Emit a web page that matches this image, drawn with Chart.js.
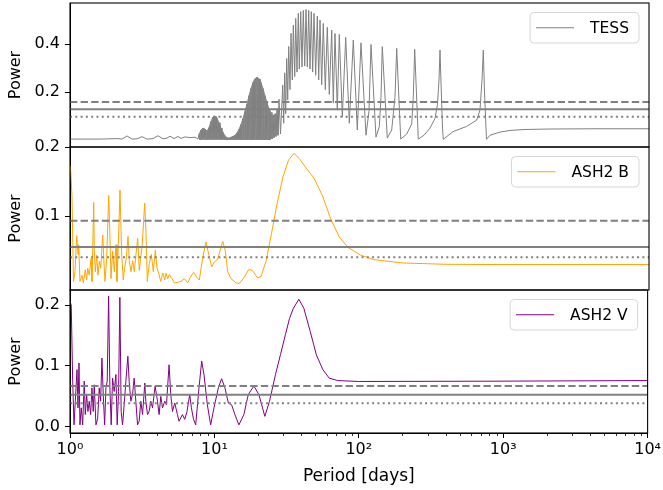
<!DOCTYPE html>
<html>
<head>
<meta charset="utf-8">
<script src="https://cdn.jsdelivr.net/npm/chart.js@4.4.1/dist/chart.umd.min.js"></script>
<style>
  body { margin: 0; background: #fff; }
  #wrap { position: relative; width: 663px; height: 490px; }
  #wrap canvas { position: absolute; left: 0; top: 0; }
</style>
</head>
<body>
<div id="wrap">
  <canvas id="c1" width="663" height="490"></canvas>
  <canvas id="c2" width="663" height="490"></canvas>
  <canvas id="c3" width="663" height="490"></canvas>
</div>
<script>
// x軸（周期, 日）の目盛り
const xMajorTicks = [1, 10, 100, 1000, 10000];
const xTickLabels = ['10⁰', '10¹', '10²', '10³', '10⁴'];

// TESS のピリオドグラム
const tessPeriod = [
  1.000, 1.612, 2.146, 2.287, 2.476, 2.682, 2.903, 3.144, 3.403, 3.745, 4.055, 4.390, 4.679, 4.909,
  5.231, 5.574, 5.846, 6.230, 6.746, 7.304,
  7.661, 7.784, 7.909, 8.035, 8.164, 8.295, 8.428, 8.563, 8.701, 8.840, 8.982, 9.126, 9.272, 9.421,
  9.572, 9.726, 9.881, 10.04, 10.20, 10.36, 10.53, 10.70, 10.87, 11.05, 11.22, 11.40, 11.59, 11.77,
  11.96, 12.15, 12.35, 12.55,
  12.75, 12.95, 13.16, 13.37, 13.59, 13.80, 14.03, 14.25, 14.48, 14.71, 14.94, 15.18, 15.43, 15.67,
  15.93, 16.18, 16.44, 16.70, 16.97, 17.24, 17.52, 17.80, 18.09, 18.38, 18.67, 18.97, 19.28, 19.58,
  19.90, 20.22, 20.54, 20.87, 21.21, 21.54, 21.89, 22.24, 22.60, 22.96, 23.33, 23.70, 24.08, 24.47,
  24.86, 25.26, 25.66, 26.08, 26.49, 26.92, 27.35, 27.79, 28.46,
  29.48, 29.95, 30.43, 30.92, 31.41, 31.92, 32.43, 33.11, 33.64, 34.35, 34.90, 35.69, 36.26, 37.01,
  37.78, 38.38, 39.25, 40.07, 40.91, 41.83, 42.70, 43.60, 44.58, 45.50, 46.45, 47.50, 48.49, 49.82,
  51.11, 52.26, 53.35, 54.81, 56.22, 58.04, 59.92, 61.86, 64.27, 65.92, 67.73, 70.26, 72.53, 76.08,
  80.30, 85.03, 90.61, 96.57, 102.4, 110.9, 116.3, 120.1, 130.0, 137.0, 140.8, 143.7, 155.6, 166.9,
  175.9, 180.7, 192.6, 211.9, 229.5, 235.3, 240.6, 254.8, 279.1, 306.9, 332.4, 345.9, 354.2, 359.9,
  367.4, 374.5, 379.3, 442.6, 550.3, 645.0, 679.8, 702.0, 716.6, 730.4, 754.0, 797.1, 934.6, 1096,
  1391, 2071, 4586, 10000
];
const tessPower = [
  0.004, 0.004, 0.006, 0.004, 0.017, 0.004, 0.005, 0.014, 0.004, 0.006, 0.018, 0.005, 0.008, 0.016,
  0.006, 0.015, 0.007, 0.013, 0.010, 0.012,
  0.004, 0.025, 0.004, 0.042, 0.005, 0.050, 0.005, 0.046, 0.005, 0.038, 0.005, 0.052, 0.005, 0.078,
  0.005, 0.096, 0.006, 0.100, 0.006, 0.092, 0.005, 0.072, 0.005, 0.050, 0.004, 0.032, 0.004, 0.018,
  0.003, 0.010, 0.003, 0.008,
  0.003, 0.012, 0.003, 0.015, 0.003, 0.020, 0.003, 0.030, 0.003, 0.045, 0.003, 0.065, 0.003, 0.090,
  0.003, 0.120, 0.003, 0.150, 0.003, 0.185, 0.003, 0.215, 0.003, 0.240, 0.003, 0.255, 0.003, 0.262,
  0.003, 0.255, 0.003, 0.240, 0.003, 0.215, 0.003, 0.185, 0.003, 0.155, 0.003, 0.130, 0.004, 0.115,
  0.005, 0.105, 0.010, 0.110, 0.015, 0.130, 0.020, 0.170, 0.025,
  0.229, 0.070, 0.280, 0.110, 0.340, 0.167, 0.390, 0.210, 0.445, 0.250, 0.479, 0.264, 0.507, 0.283,
  0.528, 0.296, 0.535, 0.304, 0.540, 0.308, 0.544, 0.304, 0.540, 0.296, 0.535, 0.283, 0.528, 0.270,
  0.517, 0.250, 0.500, 0.230, 0.486, 0.210, 0.470, 0.190, 0.458, 0.154, 0.444, 0.125, 0.440, 0.096,
  0.428, 0.070, 0.417, 0.042, 0.405, 0.020, 0.120, 0.398, 0.012, 0.056, 0.180, 0.389, 0.008, 0.042,
  0.180, 0.382, 0.004, 0.025, 0.067, 0.180, 0.378, 0.004, 0.020, 0.050, 0.090, 0.150, 0.250, 0.375,
  0.200, 0.050, 0.003, 0.035, 0.057, 0.083, 0.125, 0.250, 0.375, 0.200, 0.003, 0.020, 0.033, 0.040,
  0.044, 0.046, 0.047, 0.047
];
// 縞が細かすぎて塗りつぶしに見える周期の範囲
const tessDenseRange = [7.6, 24.5];

// ASH2 B バンド
const ash2bPeriod = [
  1.008, 1.032, 1.057, 1.083, 1.113, 1.136, 1.148, 1.172, 1.210, 1.236, 1.276, 1.304, 1.325, 1.359,
  1.397, 1.419, 1.458, 1.472, 1.496, 1.529, 1.561, 1.594, 1.630, 1.683, 1.710, 1.745, 1.793, 1.851,
  1.880, 1.919, 1.972, 2.023, 2.079, 2.112, 2.157, 2.215, 2.276, 2.335, 2.387, 2.449, 2.516, 2.568,
  2.639, 2.711, 2.781, 2.857, 2.935, 3.011, 3.079, 3.144, 3.282, 3.350, 3.420, 3.531, 3.646, 3.763,
  3.885, 3.992, 4.101, 4.234, 4.370, 4.512, 4.606, 4.732, 4.854, 5.067, 5.256, 5.401, 5.846, 6.161,
  6.503, 6.778, 7.154, 7.503, 7.822, 8.256, 8.701, 9.083, 9.527, 9.929, 10.48, 10.87, 11.35, 11.83,
  12.29, 12.95, 14.03, 14.78, 16.00, 17.16, 18.17, 19.80, 20.87, 22.60, 24.66, 26.92, 29.62, 32.33,
  35.28, 38.81, 43.39, 48.49, 55.42, 63.56, 72.64, 83.29, 101.8, 124.8, 199.8, 392.7, 934.6, 10000
];
const ash2bPower = [
  0.172, 0.130, 0.006, 0.020, 0.072, 0.045, 0.059, 0.006, 0.015, 0.004, 0.023, 0.008, 0.025, 0.015,
  0.039, 0.006, 0.120, 0.050, 0.020, 0.044, 0.015, 0.035, 0.025, 0.073, 0.040, 0.006, 0.040, 0.130,
  0.085, 0.010, 0.050, 0.020, 0.059, 0.006, 0.059, 0.138, 0.045, 0.008, 0.026, 0.040, 0.071, 0.036,
  0.020, 0.036, 0.020, 0.045, 0.068, 0.022, 0.040, 0.055, 0.119, 0.075, 0.006, 0.032, 0.045, 0.020,
  0.051, 0.025, 0.018, 0.006, 0.018, 0.008, 0.018, 0.010, 0.016, 0.010, 0.004, 0.004, 0.006, 0.010,
  0.004, 0.012, 0.019, 0.012, 0.008, 0.040, 0.063, 0.045, 0.027, 0.034, 0.038, 0.050, 0.064, 0.050,
  0.020, 0.010, 0.004, 0.003, 0.012, 0.023, 0.022, 0.011, 0.013, 0.035, 0.075, 0.118, 0.157, 0.181,
  0.191, 0.182, 0.168, 0.155, 0.130, 0.095, 0.070, 0.055, 0.044, 0.0375, 0.0326, 0.0307, 0.0303, 0.0303
];

// ASH2 V バンド
const ash2vPeriod = [
  1.000, 1.020, 1.044, 1.066, 1.088, 1.118, 1.136, 1.154, 1.172, 1.197, 1.224, 1.255, 1.276, 1.304,
  1.331, 1.359, 1.390, 1.419, 1.449, 1.472, 1.512, 1.554, 1.594, 1.630, 1.664, 1.699, 1.737, 1.773,
  1.810, 1.851, 1.889, 1.929, 1.972, 2.023, 2.079, 2.122, 2.170, 2.215, 2.261, 2.312, 2.372, 2.437,
  2.516, 2.568, 2.639, 2.711, 2.781, 2.857, 2.935, 3.011, 3.094, 3.179, 3.297, 3.350, 3.442, 3.531,
  3.627, 3.727, 3.885, 4.036, 4.140, 4.254, 4.370, 4.533, 4.657, 4.854, 4.986, 5.123, 5.315, 5.546,
  5.689, 6.006, 6.230, 6.462, 6.746, 6.932, 7.154, 7.421, 7.822, 8.164, 8.468, 8.939, 9.421, 9.929,
  10.65, 11.22, 11.83, 12.49, 13.16, 13.87, 14.78, 16.00, 17.16, 18.76, 20.32, 22.35, 24.08, 26.49,
  28.69, 31.07, 33.10, 35.23, 38.44, 41.63, 46.09, 50.87, 56.39, 62.35, 71.38, 99.84, 934.6, 10000
];
const ash2vPower = [
  0.207, 0.200, 0.075, 0.003, 0.042, 0.094, 0.031, 0.105, 0.003, 0.031, 0.003, 0.075, 0.020, 0.053,
  0.025, 0.042, 0.020, 0.064, 0.025, 0.069, 0.003, 0.013, 0.064, 0.042, 0.113, 0.053, 0.003, 0.064,
  0.075, 0.215, 0.064, 0.003, 0.080, 0.058, 0.086, 0.003, 0.058, 0.213, 0.025, 0.003, 0.036, 0.075,
  0.116, 0.075, 0.042, 0.053, 0.080, 0.042, 0.003, 0.009, 0.042, 0.020, 0.072, 0.042, 0.020, 0.025,
  0.042, 0.031, 0.067, 0.042, 0.020, 0.050, 0.031, 0.042, 0.036, 0.102, 0.053, 0.025, 0.039, 0.020,
  0.009, 0.020, 0.012, 0.025, 0.053, 0.031, 0.013, 0.003, 0.064, 0.108, 0.086, 0.036, 0.003, 0.031,
  0.064, 0.079, 0.064, 0.039, 0.036, 0.020, 0.003, 0.020, 0.053, 0.067, 0.053, 0.017, 0.042, 0.086,
  0.119, 0.152, 0.178, 0.195, 0.210, 0.195, 0.157, 0.118, 0.094, 0.080, 0.076, 0.0745, 0.075, 0.076
];

// 有意水準（破線・実線・点線の順）
const tessLevels = [0.158, 0.128, 0.097];
const ash2bLevels = [0.0935, 0.0555, 0.0410];
const ash2vLevels = [0.067, 0.0527, 0.0385];

// y軸の目盛り
const tessTicks = [0.2, 0.4];
const ash2bTicks = [0.1, 0.2];
const ash2vTicks = [0.0, 0.1, 0.2];

Chart.defaults.font.family = "'DejaVu Sans', sans-serif";
Chart.defaults.font.size = 16;
Chart.defaults.color = '#000';

const LEFT = 70, RIGHT = 649;

// 枠・小目盛り・凡例をまとめて描く
const panelPlugin = {
  id: 'panelDeco',
  afterDraw(chart, args, opts) {
    const ctx = chart.ctx;
    const a = chart.chartArea;
    ctx.save();
    ctx.strokeStyle = '#000';
    ctx.lineWidth = 1.1;
    ctx.strokeRect(a.left, a.top, a.right - a.left, a.bottom - a.top);

    if (opts.showX) {
      const xs = chart.scales.x;
      ctx.lineWidth = 0.8;
      for (let k = 0; k < 4; k++) {
        for (let m = 2; m < 10; m++) {
          const px = Math.round(xs.getPixelForValue(m * Math.pow(10, k))) + 0.5;
          ctx.beginPath();
          ctx.moveTo(px, a.bottom);
          ctx.lineTo(px, a.bottom + 3);
          ctx.stroke();
        }
      }
    }

    // 凡例（右上の角丸ボックス）
    const ds = chart.data.datasets.find(d => d.inLegend);
    ctx.font = '15.5px "DejaVu Sans"';
    const tw = ctx.measureText(ds.label).width;
    const boxRight = a.right - 10;
    const boxTop = a.top + 9.5;
    const boxH = 30.5;
    const textLeft = boxRight - 10 - tw;
    const lineRight = textLeft - 16;
    const lineLeft = lineRight - 38;
    const boxLeft = lineLeft - 6;
    const r = 4;
    ctx.beginPath();
    ctx.moveTo(boxLeft + r, boxTop);
    ctx.arcTo(boxRight, boxTop, boxRight, boxTop + boxH, r);
    ctx.arcTo(boxRight, boxTop + boxH, boxLeft, boxTop + boxH, r);
    ctx.arcTo(boxLeft, boxTop + boxH, boxLeft, boxTop, r);
    ctx.arcTo(boxLeft, boxTop, boxRight, boxTop, r);
    ctx.closePath();
    ctx.fillStyle = 'rgba(255,255,255,0.8)';
    ctx.fill();
    ctx.strokeStyle = '#d6d6d6';
    ctx.lineWidth = 1;
    ctx.stroke();
    const cy = boxTop + boxH / 2;
    ctx.strokeStyle = ds.borderColor;
    ctx.lineWidth = 1;
    ctx.beginPath();
    ctx.moveTo(lineLeft, cy);
    ctx.lineTo(lineRight, cy);
    ctx.stroke();
    ctx.fillStyle = '#000';
    ctx.textBaseline = 'middle';
    ctx.fillText(ds.label, textLeft, cy + 1);
    ctx.restore();
  }
};

function makePanel(p) {
  const dashes = [[7.4, 3.2], [], [2, 3.3]];
  const points = p.period.map((x, i) => ({x: x, y: p.power[i]}));
  const datasets = p.levels.map((v, i) => ({
    label: 'level' + i,
    data: [{x: 1, y: v}, {x: 10000, y: v}],
    borderColor: '#808080',
    borderWidth: 2,
    borderDash: dashes[i],
    pointRadius: 0,
    order: 0
  }));
  datasets.push({
    label: p.label,
    inLegend: true,
    data: points,
    borderColor: p.color,
    borderWidth: 1,
    pointRadius: 0,
    tension: 0,
    order: 1
  });
  if (p.denseRange) {
    // 細かい縞の部分は山の頂点をつないで下を塗る
    const env = points.filter((pt, i) => pt.x >= p.denseRange[0] && pt.x <= p.denseRange[1] &&
      (i === 0 || pt.y >= points[i - 1].y) && (i === points.length - 1 || pt.y >= points[i + 1].y));
    datasets.push({
      label: 'dense',
      data: env,
      borderColor: p.color,
      borderWidth: 0.8,
      backgroundColor: 'rgba(128,128,128,0.85)',
      fill: 'origin',
      pointRadius: 0,
      tension: 0,
      order: 2
    });
  }

  const xScale = {
    type: 'logarithmic',
    min: 1,
    max: 10000,
    display: p.showX
  };
  if (p.showX) {
    Object.assign(xScale, {
      afterFit: s => { s.height = 490 - p.bottom; },
      afterBuildTicks: s => { s.ticks = xMajorTicks.map(v => ({value: v, major: true})); },
      grid: {drawOnChartArea: false, drawTicks: true, tickLength: 5, color: '#000', lineWidth: 1},
      border: {display: true, color: '#000', width: 1},
      ticks: {autoSkip: false, maxRotation: 0, padding: 2, font: {size: 16},
        callback: (v, i) => xTickLabels[i]},
      title: {display: true, text: 'Period [days]', font: {size: 17}, padding: {top: 0, bottom: 3}}
    });
  }

  new Chart(document.getElementById(p.canvas), {
    type: 'line',
    data: {datasets: datasets},
    options: {
      responsive: false,
      animation: false,
      events: [],
      layout: {
        autoPadding: false,
        padding: {left: 0, right: 663 - RIGHT, top: p.top, bottom: p.showX ? 0 : 490 - p.bottom}
      },
      plugins: {
        legend: {display: false},
        tooltip: {enabled: false},
        panelDeco: {showX: p.showX}
      },
      scales: {
        x: xScale,
        y: {
          type: 'linear',
          min: p.yMin,
          max: p.yMax,
          afterFit: s => { s.width = LEFT; s.paddingTop = 0; s.paddingBottom = 0; },
          afterBuildTicks: s => { s.ticks = p.yTicks.map(v => ({value: v})); },
          grid: {drawOnChartArea: false, drawTicks: true, tickLength: 5, color: '#000', lineWidth: 1},
          border: {display: true, color: '#000', width: 1},
          ticks: {padding: 5, font: {size: 16}, callback: v => v.toFixed(1)},
          title: {display: true, text: 'Power', font: {size: 16}, padding: {top: 6, bottom: 0}}
        }
      }
    },
    plugins: [panelPlugin]
  });
}

makePanel({canvas: 'c1', label: 'TESS', color: '#808080', period: tessPeriod, power: tessPower,
  denseRange: tessDenseRange,
  levels: tessLevels, yTicks: tessTicks, yMin: -0.029, yMax: 0.571, top: 3, bottom: 147, showX: false});
makePanel({canvas: 'c2', label: 'ASH2 B', color: '#ffa500', period: ash2bPeriod, power: ash2bPower,
  levels: ash2bLevels, yTicks: ash2bTicks, yMin: -0.0064, yMax: 0.2, top: 147, bottom: 290, showX: false});
makePanel({canvas: 'c3', label: 'ASH2 V', color: '#800080', period: ash2vPeriod, power: ash2vPower,
  levels: ash2vLevels, yTicks: ash2vTicks, yMin: -0.0104, yMax: 0.2252, top: 290, bottom: 433, showX: true});
</script>
</body>
</html>
